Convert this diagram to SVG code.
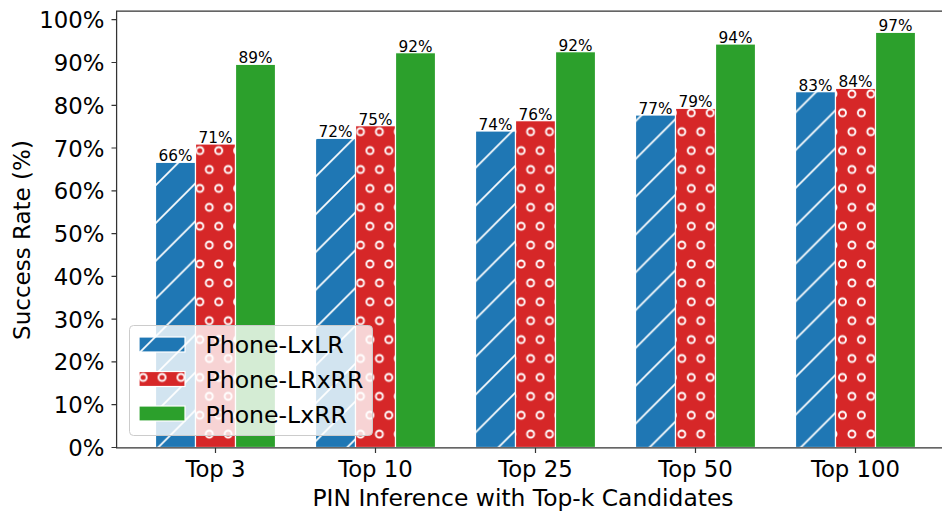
<svg xmlns="http://www.w3.org/2000/svg" width="942" height="513" viewBox="0 0 942 513">
<defs>
<style>
text{font-family:"DejaVu Sans","Liberation Sans",sans-serif;fill:#000}
.bar{stroke:#fff;stroke-width:1.2}
.b{fill:url(#hb)}
.r{fill:url(#hr)}
.g{fill:#2ca02c}
.val{font-size:15.3px;text-anchor:middle}
.tk{font-size:22.8px}
.yt{text-anchor:end}
.xt{text-anchor:middle}
.ax{stroke:#333;stroke-width:1.25;fill:none}
.tick{stroke:#333;stroke-width:1.2}
.leg{font-size:23.6px}
</style>
<pattern id="hb" patternUnits="userSpaceOnUse" x="0.8" y="0" width="37.8" height="37.8">
<rect x="0" y="0" width="37.8" height="37.8" fill="#1f77b4"/>
<path d="M-2,39.8 L39.8,-2 M-2,2 L2,-2 M35.8,39.8 L39.8,35.8" stroke="#fff" stroke-width="1.7" fill="none"/>
</pattern>
<pattern id="hr" patternUnits="userSpaceOnUse" x="1.4" y="18.3" width="18.9" height="37.8">
<rect x="0" y="0" width="18.9" height="37.8" fill="#d62728"/>
<g fill="none" stroke="#fff" stroke-width="1.9">
<circle cx="0" cy="0" r="3.5"/><circle cx="18.9" cy="0" r="3.5"/>
<circle cx="0" cy="37.8" r="3.5"/><circle cx="18.9" cy="37.8" r="3.5"/>
<circle cx="9.45" cy="18.9" r="3.5"/>
</g>
</pattern>
</defs>
<rect width="942" height="513" fill="#fff"/>

<g id="group-top3">
<rect class="bar b" x="155.5" y="162.3" width="40" height="285.2"/>
<rect class="bar r" x="195.5" y="144" width="40" height="303.5"/>
<rect class="bar g" x="235.5" y="64.3" width="40" height="383.2"/>
<text class="val" x="175.5" y="161.3">66%</text>
<text class="val" x="215.5" y="143">71%</text>
<text class="val" x="255.5" y="63.3">89%</text>
</g>
<g id="group-top10">
<rect class="bar b" x="315.5" y="138.3" width="40" height="309.2"/>
<rect class="bar r" x="355.5" y="125.7" width="40" height="321.8"/>
<rect class="bar g" x="395.5" y="52.7" width="40" height="394.8"/>
<text class="val" x="335.5" y="137.3">72%</text>
<text class="val" x="375.5" y="124.7">75%</text>
<text class="val" x="415.5" y="51.7">92%</text>
</g>
<g id="group-top25">
<rect class="bar b" x="475.5" y="131" width="40" height="316.5"/>
<rect class="bar r" x="515.5" y="120.7" width="40" height="326.8"/>
<rect class="bar g" x="555.5" y="51.7" width="40" height="395.8"/>
<text class="val" x="495.5" y="130">74%</text>
<text class="val" x="535.5" y="119.7">76%</text>
<text class="val" x="575.5" y="50.7">92%</text>
</g>
<g id="group-top50">
<rect class="bar b" x="635.5" y="115" width="40" height="332.5"/>
<rect class="bar r" x="675.5" y="108.3" width="40" height="339.2"/>
<rect class="bar g" x="715.5" y="44" width="40" height="403.5"/>
<text class="val" x="655.5" y="114">77%</text>
<text class="val" x="695.5" y="107.3">79%</text>
<text class="val" x="735.5" y="43">94%</text>
</g>
<g id="group-top100">
<rect class="bar b" x="795.5" y="91.7" width="40" height="355.8"/>
<rect class="bar r" x="835.5" y="88.3" width="40" height="359.2"/>
<rect class="bar g" x="875.5" y="32.3" width="40" height="415.2"/>
<text class="val" x="815.5" y="90.7">83%</text>
<text class="val" x="855.5" y="87.3">84%</text>
<text class="val" x="895.5" y="31.3">97%</text>
</g>

<g id="axes">
<path class="ax" d="M942,11 L116.6,11 L116.6,447.8 L942,447.8"/>
<g class="tick">
<path d="M111.5,447.5H116.6 M111.5,404.7H116.6 M111.5,361.9H116.6 M111.5,319.2H116.6 M111.5,276.4H116.6 M111.5,233.6H116.6 M111.5,190.8H116.6 M111.5,148H116.6 M111.5,105.3H116.6 M111.5,62.5H116.6 M111.5,19.7H116.6"/>
<path d="M215.5,447.8V453 M375.5,447.8V453 M535.5,447.8V453 M695.5,447.8V453 M855.5,447.8V453"/>
</g>
<g class="tk yt">
<text x="104.5" y="456">0%</text>
<text x="104.5" y="413.2">10%</text>
<text x="104.5" y="370.4">20%</text>
<text x="104.5" y="327.7">30%</text>
<text x="104.5" y="284.9">40%</text>
<text x="104.5" y="242.1">50%</text>
<text x="104.5" y="199.3">60%</text>
<text x="104.5" y="156.5">70%</text>
<text x="104.5" y="113.8">80%</text>
<text x="104.5" y="71">90%</text>
<text x="104.5" y="28.2">100%</text>
</g>
<g class="tk xt">
<text x="215.5" y="476.7">Top 3</text>
<text x="375.5" y="476.7">Top 10</text>
<text x="535.5" y="476.7">Top 25</text>
<text x="695.5" y="476.7">Top 50</text>
<text x="855.5" y="476.7">Top 100</text>
</g>
<text class="xt" x="523" y="506" font-size="23.4px">PIN Inference with Top-k Candidates</text>
<text class="xt" transform="translate(29.5,240) rotate(-90)" font-size="23px">Success Rate (%)</text>
</g>

<g id="legend">
<rect x="129.5" y="325.5" width="243" height="110" rx="4" fill="#fff" fill-opacity="0.8" stroke="#ccc" stroke-width="1"/>
<rect class="bar b" x="139" y="337" width="46" height="15"/>
<rect class="bar r" x="139" y="371.5" width="46" height="15"/>
<rect class="bar g" x="139" y="406" width="46" height="15"/>
<text class="leg" x="205.5" y="353.3">Phone-LxLR</text>
<text class="leg" x="205.5" y="388.3">Phone-LRxRR</text>
<text class="leg" x="205.5" y="423.3">Phone-LxRR</text>
</g>
</svg>
